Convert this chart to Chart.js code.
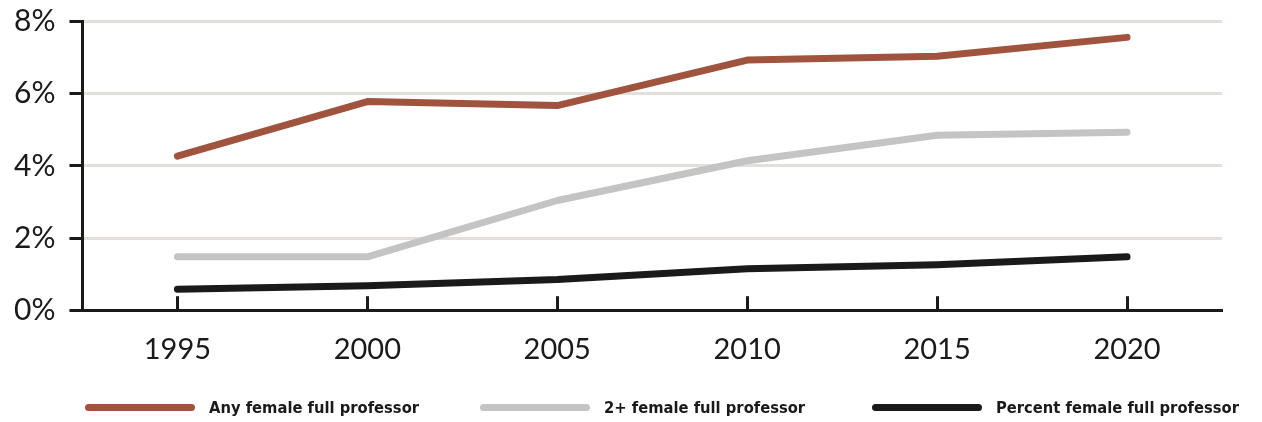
<!DOCTYPE html>
<html>
<head>
<meta charset="utf-8">
<script src="https://cdn.jsdelivr.net/npm/chart.js@4"></script>
<style>
  html, body { margin: 0; padding: 0; background: #ffffff; }
  #wrap { position: relative; width: 1262px; height: 422px; }
  #legend { position: absolute; top: 396px; left: 0; width: 1262px; height: 22px;
            font-family: "Liberation Sans Narrow", "DejaVu Sans Condensed", sans-serif; font-weight: bold;
            font-size: 16.4px; color: #1a1a1a; }
  .item { position: absolute; top: 0; display: flex; align-items: center; height: 22px; white-space: nowrap; }
  .swatch { width: 110px; height: 7px; border-radius: 4px; margin-right: 14px; }
</style>
</head>
<body>
<div id="wrap">
  <canvas id="c" width="1262" height="422"></canvas>
  <div id="legend"></div>
</div>
<script>
const years = ["1995", "2000", "2005", "2010", "2015", "2020"];
const anyFemale = [4.27, 5.78, 5.67, 6.93, 7.04, 7.56];
const twoPlusFemale = [1.48, 1.48, 3.04, 4.14, 4.85, 4.93];
const percentFemale = [0.58, 0.68, 0.85, 1.15, 1.26, 1.48];
const seriesNames = ["Any female full professor", "2+ female full professor", "Percent female full professor"];
const seriesColors = ["#a0543e", "#c4c4c4", "#1a1a1a"];
const legendX = [85, 480, 872];
const yTicks = [0, 2, 4, 6, 8];

const ink = "#1a1a1a";

const xTickPlugin = {
  id: "xTicks",
  afterDatasetsDraw(chart) {
    const ctx = chart.ctx, x = chart.scales.x, area = chart.chartArea;
    ctx.save();
    ctx.strokeStyle = ink;
    ctx.lineWidth = 3;
    years.forEach((y, i) => {
      const px = Math.round(x.getPixelForValue(i)) + 0.5;
      ctx.beginPath();
      ctx.moveTo(px, area.bottom);
      ctx.lineTo(px, area.bottom - 14);
      ctx.stroke();
    });
    ctx.restore();
  }
};

new Chart(document.getElementById("c"), {
  type: "line",
  data: {
    labels: years,
    datasets: [anyFemale, twoPlusFemale, percentFemale].map((d, i) => ({
      label: seriesNames[i],
      data: d,
      borderColor: seriesColors[i],
      backgroundColor: seriesColors[i],
      borderWidth: 7,
      borderCapStyle: "round",
      borderJoinStyle: "round",
      pointRadius: 0,
      tension: 0
    }))
  },
  options: {
    responsive: false,
    animation: false,
    devicePixelRatio: 1,
    layout: { padding: { top: 9, right: 40, bottom: 33, left: 0 } },
    plugins: { legend: { display: false }, tooltip: { enabled: false } },
    scales: {
      x: {
        offset: true,
        grid: { display: true, drawOnChartArea: false, drawTicks: false, tickLength: 0 },
        border: { display: true, color: ink, width: 3 },
        ticks: { color: ink, padding: 22, font: { family: "Lato", size: 29 } }
      },
      y: {
        min: 0, max: 8,
        afterBuildTicks(scale) { scale.ticks = yTicks.map(v => ({ value: v })); },
        grid: { color: "#e3e0db", lineWidth: 3, tickColor: ink, tickLength: 13, drawTicks: true },
        border: { display: true, color: ink, width: 3 },
        ticks: { color: ink, padding: 14, font: { family: "Lato", size: 30, lineHeight: 0.5 }, callback: v => v + "%" }
      }
    }
  },
  plugins: [xTickPlugin]
});

const legend = document.getElementById("legend");
seriesNames.forEach((n, i) => {
  const item = document.createElement("div");
  item.className = "item";
  item.style.left = legendX[i] + "px";
  const sw = document.createElement("div");
  sw.className = "swatch";
  sw.style.background = seriesColors[i];
  const t = document.createElement("span");
  t.textContent = n;
  item.appendChild(sw);
  item.appendChild(t);
  legend.appendChild(item);
});
</script>
</body>
</html>
